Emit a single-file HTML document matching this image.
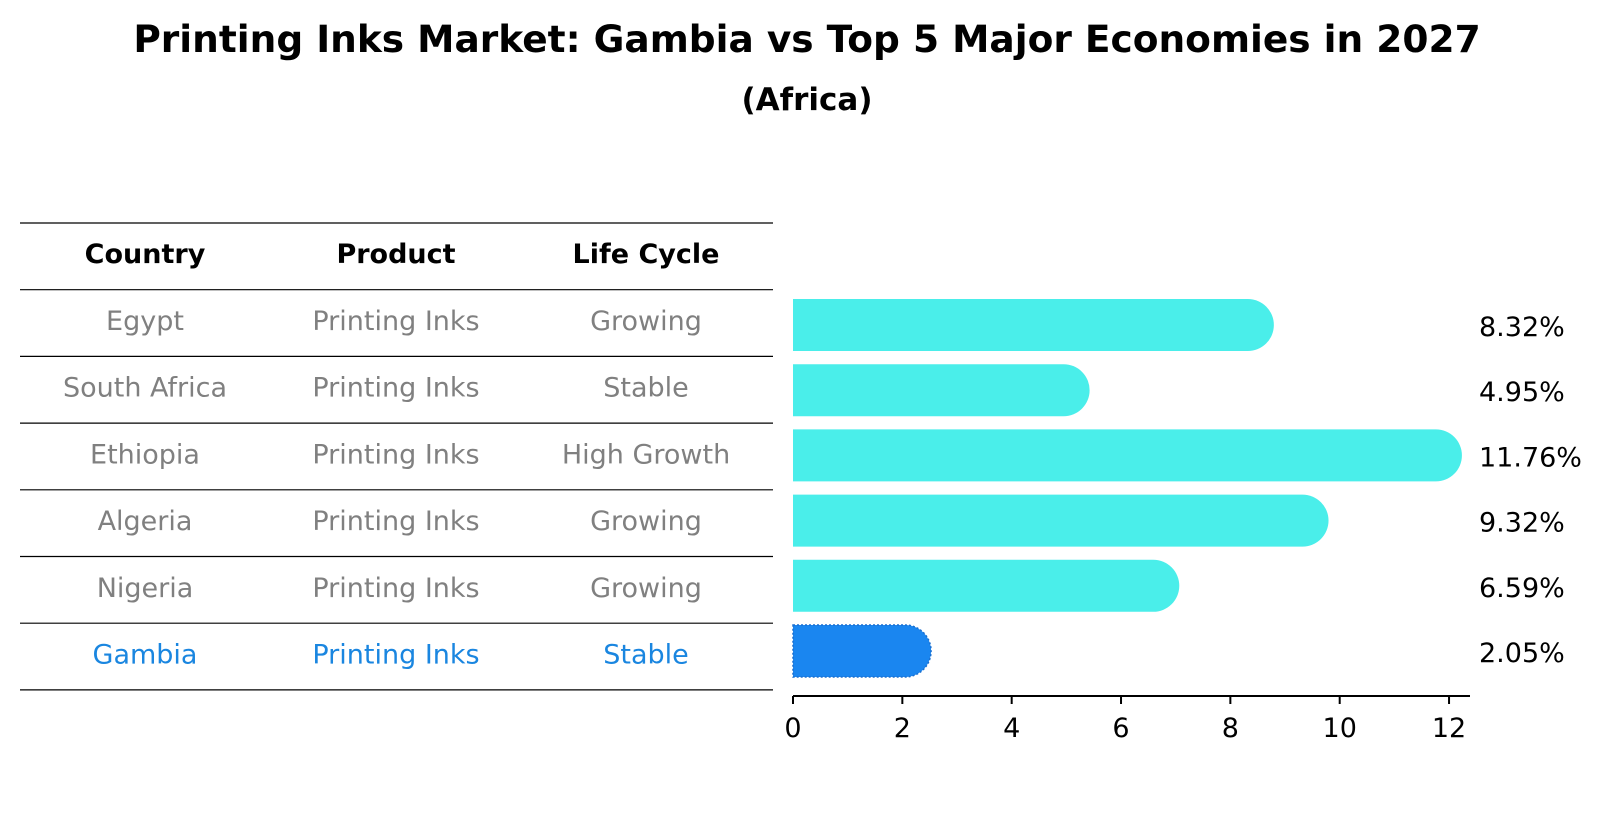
<!DOCTYPE html>
<html><head><meta charset="utf-8"><style>
body{margin:0;background:#fff;}
svg{display:block;font-family:"DejaVu Sans","Liberation Sans",sans-serif;}
</style></head><body>
<svg id="c" width="1604" height="823" viewBox="0 0 1604 823">
<text x="807" y="52" text-anchor="middle" font-size="37.5" font-weight="bold">Printing Inks Market: Gambia vs Top 5 Major Economies in 2027</text>
<text x="807" y="110" text-anchor="middle" font-size="31" font-weight="bold">(Africa)</text>
<g id="tbl"></g>
<g id="bars"></g>
</svg>
<script>
const countries=["Egypt","South Africa","Ethiopia","Algeria","Nigeria","Gambia"];
const products=["Printing Inks","Printing Inks","Printing Inks","Printing Inks","Printing Inks","Printing Inks"];
const lifecycles=["Growing","Stable","High Growth","Growing","Growing","Stable"];
const values=[8.32,4.95,11.76,9.32,6.59,2.05];
const ticks=[0,2,4,6,8,10,12];
const NS="http://www.w3.org/2000/svg";
function mk(tag,attrs,parent,txt){const e=document.createElementNS(NS,tag);for(const k in attrs)e.setAttribute(k,attrs[k]);if(txt!==undefined)e.textContent=txt;parent.appendChild(e);return e;}
const tbl=document.getElementById('tbl'),bars=document.getElementById('bars');
const colX=[145,396,646];
const pitch=66.7;
const lineY=i=>223+i*pitch;
const hdr=["Country","Product","Life Cycle"];
for(let i=0;i<8;i++){
  const ln=mk('line',{x1:20,x2:773,y1:lineY(i),y2:lineY(i),stroke:'#000','stroke-width':1.2},tbl);
  
  
}
hdr.forEach((h,j)=>{const t=mk('text',{x:colX[j],y:263,'text-anchor':'middle','font-size':27,'font-weight':'bold'},tbl,h);

});
countries.forEach((c,i)=>{
  const y=330+i*pitch;
  const col=c==="Gambia"?'#1a86e0':'#808080';
  [c,products[i],lifecycles[i]].forEach((v,j)=>{
    const t=mk('text',{x:colX[j],y:y,'text-anchor':'middle','font-size':27,fill:col},tbl,v);
    
    
  });
});
const x0=793,ppu=54.67;
const X=v=>x0+v*ppu;
const barY=i=>325+i*65.2;
const ax=mk('line',{x1:793,x2:1470,y1:696,y2:696,stroke:'#000','stroke-width':2},bars);


ticks.forEach(t=>{
  const tl=mk('line',{x1:X(t),x2:X(t),y1:696,y2:704,stroke:'#000','stroke-width':2},bars);
  
  
  const tt=mk('text',{x:X(t),y:737,'text-anchor':'middle','font-size':27},bars,String(t));
  
  
});
values.forEach((v,i)=>{
  const y=barY(i),h=52,r=26,xe=X(v);
  const g=countries[i]==="Gambia";
  const d=`M${x0},${y-h/2} L${xe},${y-h/2} A${r},${r} 0 0 1 ${xe},${y+h/2} L${x0},${y+h/2} Z`;
  const p=mk('path',{d:d,fill:g?'#1a86f0':'#4aeeea',stroke:g?'#1a6fd0':'none','stroke-width':g?1.5:0,'stroke-dasharray':g?'2,2':'none'},bars);
  
  
  const vt=mk('text',{x:1479,y:y+11,'font-size':27},bars,v.toFixed(2)+'%');
  
  
});
</script>
</body></html>
